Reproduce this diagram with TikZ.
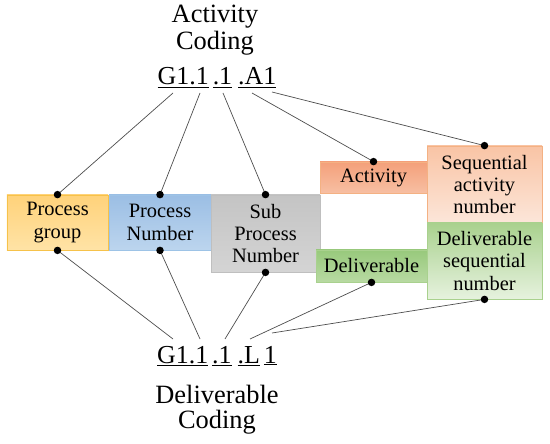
\documentclass[tikz,border=0pt]{standalone}
\usepackage{fontspec}
\setmainfont{Liberation Serif}
\usetikzlibrary{positioning}
\definecolor{linegray}{HTML}{4D4D4D}
\definecolor{pgtop}{HTML}{FFD27A}
\definecolor{pgbot}{HTML}{FFE3A6}
\definecolor{pgline}{HTML}{F6C24A}
\definecolor{pntop}{HTML}{9BBEE4}
\definecolor{pnbot}{HTML}{BCD5EE}
\definecolor{pnline}{HTML}{9DC3E6}
\definecolor{sptop}{HTML}{C4C4C4}
\definecolor{spbot}{HTML}{D4D4D4}
\definecolor{spline}{HTML}{BFBFBF}
\definecolor{actop}{HTML}{F4A07A}
\definecolor{acbot}{HTML}{F7BFA3}
\definecolor{acline}{HTML}{F4B183}
\definecolor{sqtop}{HTML}{F9C4A5}
\definecolor{sqbot}{HTML}{FCE6D9}
\definecolor{dltop}{HTML}{98C97C}
\definecolor{dlbot}{HTML}{B8DAA2}
\definecolor{dlline}{HTML}{A9D18E}
\definecolor{dstop}{HTML}{A9D18E}
\definecolor{dsbot}{HTML}{E6F2DE}

\tikzset{
  box/.style={rectangle, draw, line width=0.8bp, inner sep=0pt, align=center,
    font=\fontsize{20.5}{22.5}\selectfont},
  title/.style={inner sep=0pt, anchor=base, font=\fontsize{26.5}{27}\selectfont},
  code/.style={inner sep=0pt, anchor=base, font=\fontsize{26}{28}\selectfont},
  link/.style={linegray, line width=0.7bp},
  dot/.style={circle, fill=black, inner sep=0pt, minimum size=7.5bp}
}

\begin{document}
\begin{tikzpicture}[x=1bp, y=-1bp]

\useasboundingbox (0,0) rectangle (550,444);

% Activity coding on top
\node[title] (acttitle) at (215,23) {Activity};
\node[title] (actcoding) at (215,50) {Coding};
\node[code] (actcode) at (217,85)
  {\underline{G1.1}\hspace{4bp}\underline{.1}\hspace{6bp}\underline{.A1}};

% Deliverable coding at the bottom
\node[code] (delcode) at (217,363)
  {\underline{G1.1}\hspace{4bp}\underline{.1}\hspace{6bp}\underline{.L}\hspace{4bp}\underline{1}};
\node[title] (deltitle) at (217,403) {Deliverable};
\node[title] (delcoding) at (217,428) {Coding};

% Boxes
\node[box, top color=pgtop, bottom color=pgbot, draw=pgline,
  minimum width=101bp, minimum height=55bp] (pgroup) at (57.5,222.5) {Process\\group};
\node[box, top color=pntop, bottom color=pnbot, draw=pnline,
  minimum width=102bp, minimum height=55bp] (pnum) at (160,222.5) {Process\\Number};
\node[box, top color=sptop, bottom color=spbot, draw=spline,
  minimum width=109bp, minimum height=77bp] (spnum) at (265.5,233.5) {Sub\\Process\\Number};
\node[box, top color=actop, bottom color=acbot, draw=acline,
  minimum width=107bp, minimum height=31bp] (activity) at (373.5,177.5) {Activity};
\node[box, top color=sqtop, bottom color=sqbot, draw=acline,
  minimum width=115bp, minimum height=77bp] (seqact) at (484.5,184.5) {Sequential\\activity\\number};
\node[box, top color=dltop, bottom color=dlbot, draw=dlline,
  minimum width=111bp, minimum height=32bp] (deliv) at (371.5,266) {Deliverable};
\node[box, top color=dstop, bottom color=dsbot, draw=dlline,
  minimum width=115bp, minimum height=76bp] (seqdel) at (484.5,261) {Deliverable\\sequential\\number};

% Ends of the links under the codes
\coordinate (a1) at (173,93);
\coordinate (a2) at (200,93);
\coordinate (a3) at (223,93);
\coordinate (a4) at (252,93);
\coordinate (a5) at (272,92);
\coordinate (d1) at (173,339);
\coordinate (d2) at (200,339);
\coordinate (d3) at (225,339);
\coordinate (d4) at (250,339);
\coordinate (d5) at (272,333);

% Links to the activity code
\draw[link] (a1) -- (pgroup.north);
\draw[link] (a2) -- (pnum.north);
\draw[link] (a3) -- (spnum.north);
\draw[link] (a4) -- (activity.north);
\draw[link] (a5) -- (seqact.north);

% Links to the deliverable code
\draw[link] (d1) -- (pgroup.south);
\draw[link] (d2) -- (pnum.south);
\draw[link] (d3) -- (spnum.south);
\draw[link] (d4) -- (deliv.south);
\draw[link] (d5) -- (seqdel.south);

% Dots
\foreach \n in {pgroup,pnum,spnum,activity,seqact}
  \node[dot] (\n-top) at (\n.north) {};
\foreach \n in {pgroup,pnum,spnum,deliv,seqdel}
  \node[dot] (\n-bot) at (\n.south) {};

\end{tikzpicture}
\end{document}
